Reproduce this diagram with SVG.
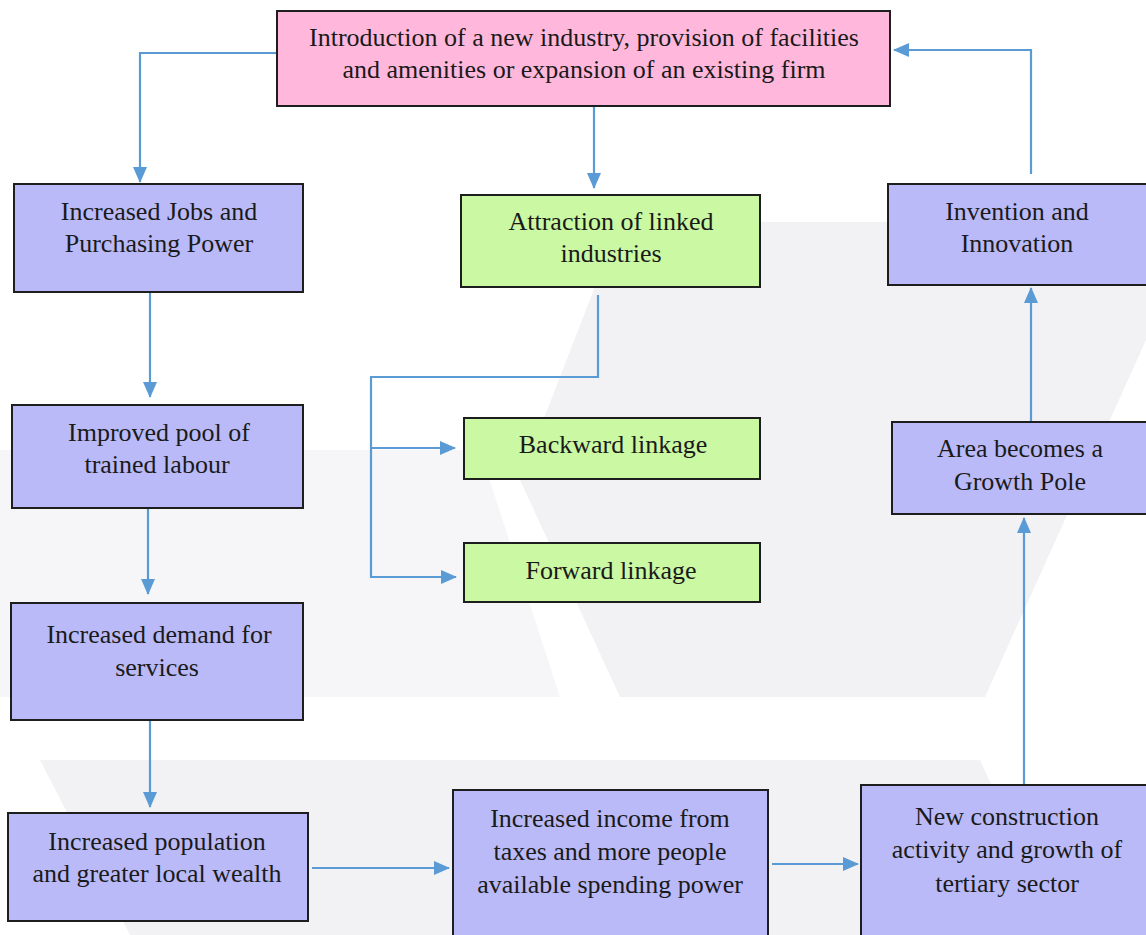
<svg xmlns="http://www.w3.org/2000/svg" width="1146" height="935" viewBox="0 0 1146 935">
<style>
.bg{fill:#f2f2f5}
.box{stroke:#1e1e1e;stroke-width:2}
.pink{fill:#ffb8dc}
.blue{fill:#b6b6f8;fill-opacity:0.94}
.green{fill:#c8f89c;fill-opacity:0.94}
text{font-family:"Liberation Serif","Times New Roman",serif;font-size:26px;fill:#1a1a1a;text-anchor:middle}
.ln{fill:none;stroke:#5b9bd5;stroke-width:2.2}
</style>
<defs>
<marker id="ah" markerUnits="userSpaceOnUse" markerWidth="16" markerHeight="14" refX="15" refY="7" orient="auto">
<path d="M0,0 L16,7 L0,14 Z" fill="#5b9bd5"/>
</marker>
</defs>
<rect x="0" y="0" width="1146" height="935" fill="#ffffff"/>
<g id="watermark">
<polygon class="bg" points="620,222 1146,222 1146,340 985,697 620,697 520,480"/>
<polygon class="bg" points="0,450 480,450 560,697 0,697" opacity="0.7"/>
<polygon class="bg" points="40,760 980,760 1060,935 130,935"/>
</g>
<g id="connectors">
<path class="ln" d="M277,53 H140 V182" marker-end="url(#ah)"/>
<path class="ln" d="M594,106 V188" marker-end="url(#ah)"/>
<path class="ln" d="M1031,174 V50 H894" marker-end="url(#ah)"/>
<path class="ln" d="M150,292 V397" marker-end="url(#ah)"/>
<path class="ln" d="M148,508 V594" marker-end="url(#ah)"/>
<path class="ln" d="M150,720 V807" marker-end="url(#ah)"/>
<path class="ln" d="M312,868 H449" marker-end="url(#ah)"/>
<path class="ln" d="M772,864 H858" marker-end="url(#ah)"/>
<path class="ln" d="M1024,785 V518" marker-end="url(#ah)"/>
<path class="ln" d="M1031,422 V288" marker-end="url(#ah)"/>
<path class="ln" d="M598,295 V377 H371 V577 H456" marker-end="url(#ah)"/>
<path class="ln" d="M371,448 H455" marker-end="url(#ah)"/>
</g>
<g id="n-intro">
<rect class="box pink" x="277" y="11" width="613" height="95"/>
<text x="584" y="46">Introduction of a new industry, provision of facilities</text>
<text x="584" y="78">and amenities or expansion of an existing firm</text>
</g>
<g id="n-jobs">
<rect class="box blue" x="14" y="184" width="289" height="108"/>
<text x="159" y="220">Increased Jobs and</text>
<text x="159" y="252">Purchasing Power</text>
</g>
<g id="n-pool">
<rect class="box blue" x="12" y="405" width="291" height="103"/>
<text x="159" y="441">Improved pool of</text>
<text x="157" y="473">trained labour</text>
</g>
<g id="n-demand">
<rect class="box blue" x="11" y="603" width="292" height="117"/>
<text x="159" y="643">Increased demand for</text>
<text x="157" y="676">services</text>
</g>
<g id="n-population">
<rect class="box blue" x="8" y="813" width="300" height="108"/>
<text x="157" y="850">Increased population</text>
<text x="157" y="882">and greater local wealth</text>
</g>
<g id="n-attraction">
<rect class="box green" x="461" y="195" width="299" height="92"/>
<text x="611" y="230">Attraction of linked</text>
<text x="611" y="262">industries</text>
</g>
<g id="n-backward">
<rect class="box green" x="464" y="418" width="296" height="61"/>
<text x="613" y="453">Backward linkage</text>
</g>
<g id="n-forward">
<rect class="box green" x="464" y="543" width="296" height="59"/>
<text x="611" y="579">Forward linkage</text>
</g>
<g id="n-income">
<rect class="box blue" x="453" y="790" width="315" height="150"/>
<text x="610" y="827">Increased income from</text>
<text x="610" y="860">taxes and more people</text>
<text x="610" y="893">available spending power</text>
</g>
<g id="n-construction">
<rect class="box blue" x="861" y="785" width="290" height="155"/>
<text x="1007" y="825">New construction</text>
<text x="1007" y="858">activity and growth of</text>
<text x="1007" y="892">tertiary sector</text>
</g>
<g id="n-area">
<rect class="box blue" x="892" y="422" width="258" height="92"/>
<text x="1020" y="457">Area becomes a</text>
<text x="1020" y="490">Growth Pole</text>
</g>
<g id="n-invention">
<rect class="box blue" x="888" y="184" width="262" height="101"/>
<text x="1017" y="220">Invention and</text>
<text x="1017" y="252">Innovation</text>
</g>
</svg>
